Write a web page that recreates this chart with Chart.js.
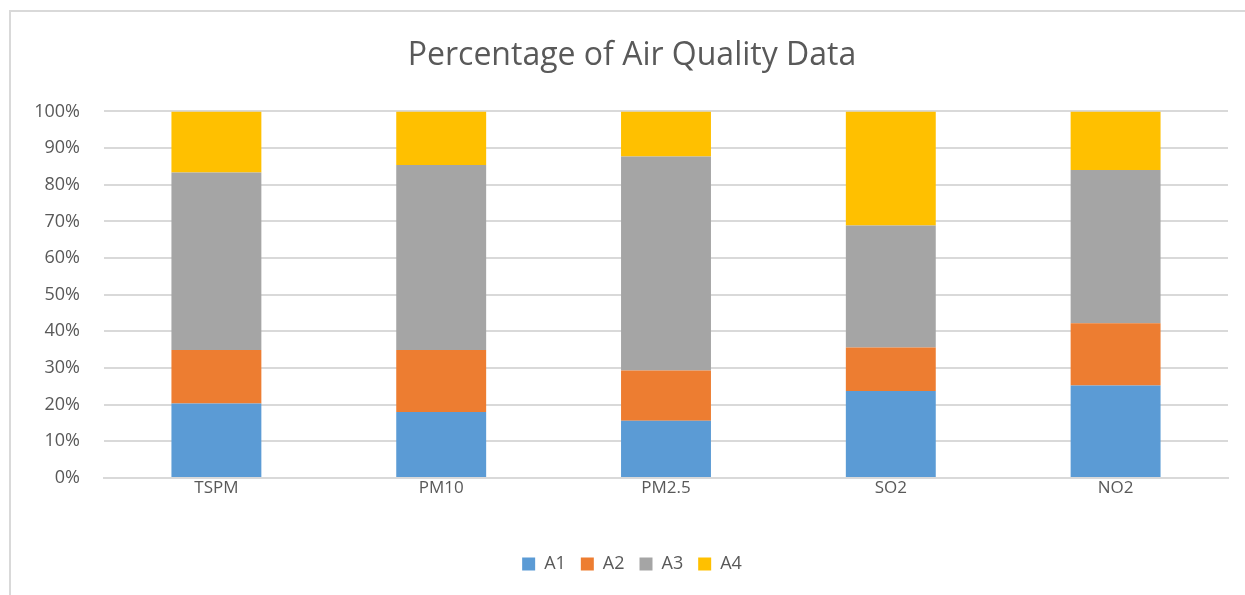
<!DOCTYPE html>
<html>
<head>
<meta charset="utf-8">
<script src="https://cdn.jsdelivr.net/npm/chart.js@4/dist/chart.umd.min.js"></script>
<style>
  html, body { margin: 0; padding: 0; background: #ffffff; overflow: hidden; }
  #wrap { position: relative; width: 1245px; height: 595px; overflow: hidden; }
  #frame { position: absolute; left: 9px; top: 10px; width: 1400px; height: 800px;
           border-left: 2px solid #d9d9d9; border-top: 2px solid #d9d9d9; }
  canvas { position: absolute; left: 0; top: 0; }
</style>
</head>
<body>
<div id="wrap">
  <div id="frame"></div>
  <canvas id="c" width="1245" height="595"></canvas>
</div>
<script>
const categories = ["TSPM", "PM10", "PM2.5", "SO2", "NO2"];
const seriesNames = ["A1", "A2", "A3", "A4"];
const a1 = [20.3, 18.0, 15.6, 23.7, 25.2];
const a2 = [14.6, 16.9, 13.7, 11.9, 17.0];
const a3 = [48.4, 50.5, 58.4, 33.3, 41.8];
const a4 = [16.7, 14.6, 12.3, 31.1, 16.0];
const yTicks = [0, 10, 20, 30, 40, 50, 60, 70, 80, 90, 100];
const colors = ["#5B9BD5", "#ED7D31", "#A5A5A5", "#FFC000"];

const seriesValues = [a1, a2, a3, a4];
const textColor = "#595959";
const font = "'Open Sans', 'Liberation Sans', sans-serif";

new Chart(document.getElementById("c"), {
  type: "bar",
  data: {
    labels: categories,
    datasets: seriesNames.map((n, i) => ({
      label: n,
      data: seriesValues[i],
      backgroundColor: colors[i],
      borderWidth: 0,
      categoryPercentage: 1.0,
      barPercentage: 0.4
    }))
  },
  options: {
    responsive: false,
    animation: false,
    devicePixelRatio: 1,
    layout: { padding: { left: 36, right: 17, top: 0, bottom: 12 } },
    plugins: {
      title: {
        display: true,
        text: "Percentage of Air Quality Data",
        color: textColor,
        font: { family: font, size: 32, weight: "normal" },
        padding: { top: 37, bottom: 36 }
      },
      legend: {
        position: "bottom",
        labels: {
          color: textColor,
          font: { family: font, size: 18 },
          boxWidth: 13,
          boxHeight: 13,
          padding: 15
        }
      },
      tooltip: { enabled: false }
    },
    scales: {
      x: {
        stacked: true,
        grid: { display: false, drawTicks: false },
        border: { display: true, color: "#d9d9d9", width: 2 },
        ticks: { color: textColor, font: { family: font, size: 17 }, padding: 0 },
        afterFit: (s) => { s.height = 62; }
      },
      y: {
        stacked: true,
        min: 0,
        max: 100,
        afterBuildTicks: (s) => { s.ticks = yTicks.map(v => ({ value: v })); },
        grid: { color: "#d9d9d9", lineWidth: 2, drawTicks: false },
        border: { display: false },
        ticks: {
          color: textColor,
          font: { family: font, size: 18 },
          padding: 24,
          callback: (v) => v + "%"
        },
        afterFit: (s) => { s.width = 68; }
      }
    }
  }
});
</script>
</body>
</html>
